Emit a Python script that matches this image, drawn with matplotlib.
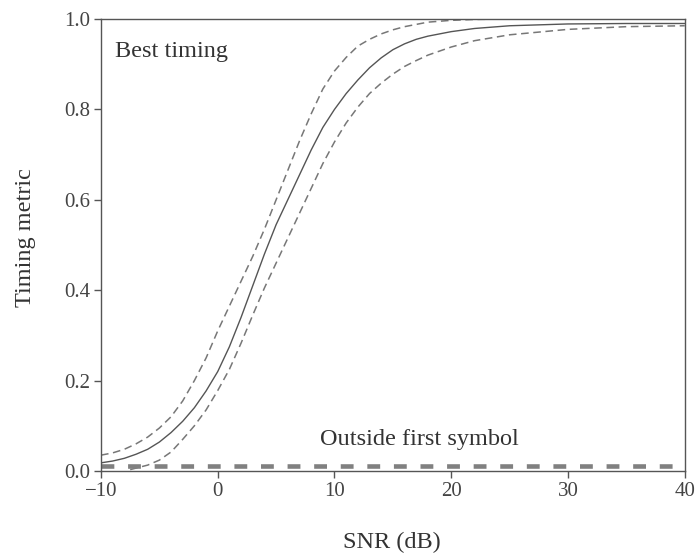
import numpy as np
import matplotlib.pyplot as plt

# ---- datos ----
snr_mid = [-10, -9, -8, -7, -6, -5, -4, -3, -2, -1, 0, 1, 2, 3, 4, 5, 6, 7, 8, 9, 10,
           11, 12, 13, 14, 15, 16, 17, 18, 20, 22, 25, 30, 35, 40]
met_mid = [0.018, 0.022, 0.028, 0.037, 0.048, 0.064, 0.085, 0.11, 0.14, 0.177, 0.22,
           0.275, 0.34, 0.41, 0.48, 0.545, 0.60, 0.655, 0.71, 0.76, 0.80,
           0.835, 0.865, 0.892, 0.914, 0.932, 0.945, 0.955, 0.962, 0.972, 0.979,
           0.985, 0.989, 0.99, 0.99]

snr_up = [-10, -9, -8, -7, -6, -5, -4, -3, -2, -1, 0, 1, 2, 3, 4, 5, 6, 7, 8, 9, 10,
          11, 12, 13, 14, 15, 16, 17, 18, 20, 22, 25, 40]
met_up = [0.035, 0.04, 0.048, 0.06, 0.075, 0.095, 0.12, 0.155, 0.20, 0.25, 0.31,
          0.365, 0.42, 0.475, 0.535, 0.60, 0.665, 0.73, 0.79, 0.845, 0.885,
          0.915, 0.94, 0.955, 0.967, 0.976, 0.983, 0.988, 0.993, 0.997, 0.999,
          1.0, 1.0]

snr_lo = [-7.5, -6, -5, -4, -3, -2, -1, 0, 1, 2, 3, 4, 5, 6, 7, 8, 9, 10, 11, 12, 13,
          14, 15, 16, 17, 18, 20, 22, 25, 30, 35, 40]
met_lo = [0.003, 0.013, 0.024, 0.042, 0.07, 0.10, 0.135, 0.178, 0.225, 0.283, 0.345,
          0.405, 0.46, 0.515, 0.57, 0.625, 0.68, 0.728, 0.77, 0.805, 0.835,
          0.858, 0.878, 0.895, 0.908, 0.92, 0.938, 0.952, 0.965, 0.977, 0.983, 0.985]

snr_out = [-10, 40]
met_out = [0.012, 0.012]

plt.rcParams.update({'font.family': 'Liberation Serif', 'figure.facecolor': 'white'})

fig = plt.figure(figsize=(6.98, 5.55), dpi=100)
ax = fig.add_axes([0.1447, 0.1514, 0.8363, 0.8144])

ax.plot(snr_mid, met_mid, color='#555555', lw=1.0)
ax.plot(snr_up, met_up, color='#777777', lw=1.1, ls=(0, (5, 3)))
ax.plot(snr_lo, met_lo, color='#777777', lw=1.1, ls=(0, (5, 3)))
ax.plot(snr_out, met_out, color='#808080', lw=3.3, ls=(0, (2.8, 3.0)))

ax.text(-8.8, 0.916, 'Best timing', fontsize=17.5, color='#333333', va='baseline')
ax.text(8.8, 0.0575, 'Outside first symbol', fontsize=17.5, color='#333333', va='baseline')

ax.set_xlim(-10, 40); ax.set_ylim(0, 1.0)
ax.set_xticks([-10, 0, 10, 20, 30, 40])
ax.set_xticklabels(['\u221210', '0', '10', '20', '30', '40'])
ax.set_yticks([0.0, 0.2, 0.4, 0.6, 0.8, 1.0])
ax.set_yticklabels(['0.0', '0.2', '0.4', '0.6', '0.8', '1.0'])
ax.tick_params(direction='out', length=5, width=1, colors='#555555',
               labelcolor='#444444', labelsize=15, pad=3)
for s in ax.spines.values():
    s.set_color('#555555'); s.set_linewidth(1.0)

fig.text(392/698, 1-542/555, 'SNR (dB)', fontsize=17.5, color='#333333', ha='center', va='center')
fig.text(25/698, 1-238/555, 'Timing metric', fontsize=17.5, color='#333333',
         ha='center', va='center', rotation=90)

fig.savefig('out.png', dpi=100)
